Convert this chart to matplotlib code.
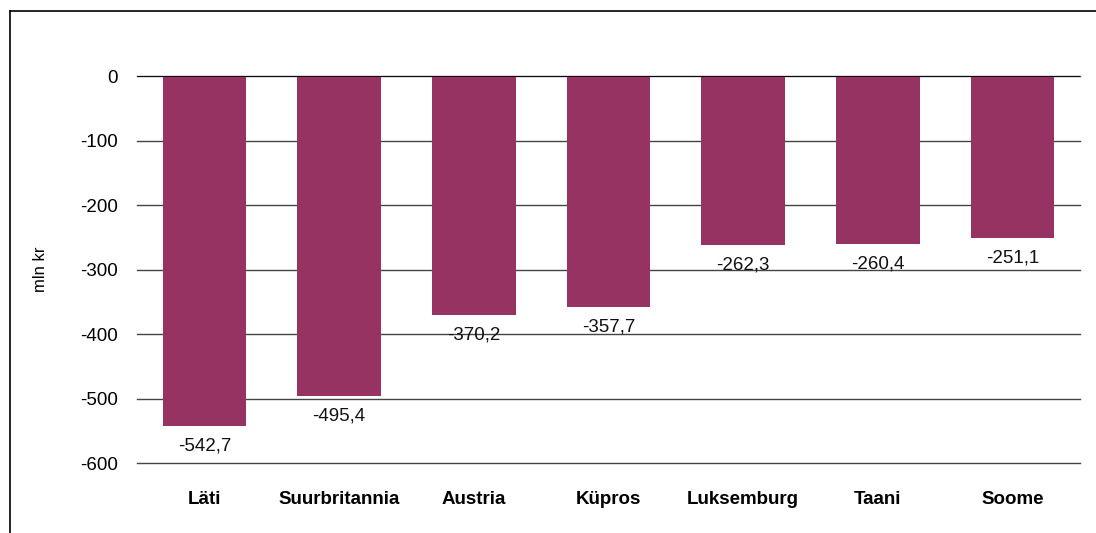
import matplotlib.pyplot as plt
from matplotlib.lines import Line2D
import numpy as np

# Data
countries = ["Läti", "Suurbritannia", "Austria", "Küpros", "Luksemburg", "Taani", "Soome"]
values = [-542.7, -495.4, -370.2, -357.7, -262.3, -260.4, -251.1]
yticks = [0, -100, -200, -300, -400, -500, -600]

plt.rcParams['font.family'] = ['Liberation Sans', 'DejaVu Sans']

fig = plt.figure(figsize=(10.96, 5.33), dpi=100)
ax = fig.add_axes([0.125, 0.1313, 0.8604, 0.7261])

x = np.arange(len(countries))
ax.bar(x, values, width=0.62, color="#963363", zorder=3)

# value labels below each bar
for xi, v in zip(x, values):
    ax.annotate(f"{v:.1f}".replace(".", ","), (xi, v), xytext=(0, -20),
                textcoords="offset pixels",
                ha="center", va="center", fontsize=13.5, color="#111111")

ax.set_ylim(-600, 0)
ax.set_xlim(-0.5, len(countries) - 0.5)
ax.set_yticks(yticks)
ax.set_yticklabels([str(t) for t in yticks], fontsize=13.5)
ax.set_xticks(x)
ax.set_xticklabels(countries, fontsize=13.5, fontweight="bold")
ax.tick_params(axis="both", length=0)
ax.tick_params(axis="x", pad=20)
ax.tick_params(axis="y", pad=14)
for t in yticks:
    ax.axhline(t, color="#444444", linewidth=1.0, zorder=0, clip_on=False)
ax.axhline(0, color="black", linewidth=1.2, zorder=4)
for s in ax.spines.values():
    s.set_visible(False)
ax.set_ylabel("mln kr", fontsize=12, labelpad=23)

# frame lines of the original picture (left and top)
fig.add_artist(Line2D([0.0091, 0.0091], [0, 0.979], color="black", linewidth=1.2))
fig.add_artist(Line2D([0.0091, 1.0], [0.979, 0.979], color="black", linewidth=1.2))

plt.savefig("out.png", dpi=100)
